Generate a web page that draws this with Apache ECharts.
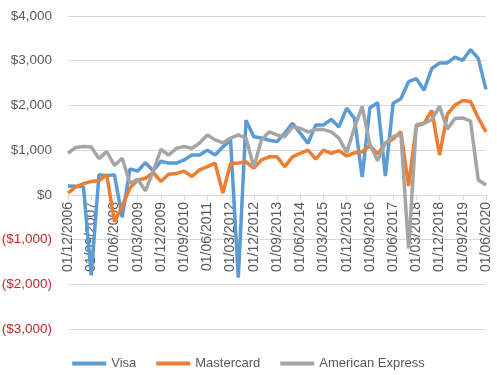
<!DOCTYPE html>
<html>
<head>
<meta charset="utf-8">
<script src="https://cdn.jsdelivr.net/npm/echarts@6/dist/echarts.min.js"></script>
<style>
  html, body { margin: 0; padding: 0; background: #fff; }
  #chart { width: 497px; height: 375px; }
</style>
</head>
<body>
<div id="chart"></div>
<script>
// quarterly, 12/2006 - 06/2020
var quarters = [
  '01/12/2006','01/03/2007','01/06/2007','01/09/2007','01/12/2007','01/03/2008','01/06/2008','01/09/2008',
  '01/12/2008','01/03/2009','01/06/2009','01/09/2009','01/12/2009','01/03/2010','01/06/2010','01/09/2010',
  '01/12/2010','01/03/2011','01/06/2011','01/09/2011','01/12/2011','01/03/2012','01/06/2012','01/09/2012',
  '01/12/2012','01/03/2013','01/06/2013','01/09/2013','01/12/2013','01/03/2014','01/06/2014','01/09/2014',
  '01/12/2014','01/03/2015','01/06/2015','01/09/2015','01/12/2015','01/03/2016','01/06/2016','01/09/2016',
  '01/12/2016','01/03/2017','01/06/2017','01/09/2017','01/12/2017','01/03/2018','01/06/2018','01/09/2018',
  '01/12/2018','01/03/2019','01/06/2019','01/09/2019','01/12/2019','01/03/2020','01/06/2020'
];

var visa = [
  200, 190, 180, -1800, 450, 430, 450, -500,
  580, 530, 720, 540, 750, 710, 710, 780,
  890, 890, 1000, 890, 1070, 1230, -1850, 1670,
  1300, 1270, 1220, 1190, 1380, 1600, 1380, 1150,
  1560, 1560, 1690, 1520, 1940, 1710, 400, 1950,
  2060, 420, 2050, 2150, 2530, 2600, 2340, 2830,
  2950, 2950, 3080, 3010, 3250, 3050, 2360
];

var mastercard = [
  40, 180, 250, 300, 320, 450, -600, -250,
  150, 330, 370, 500, 300, 460, 480, 530,
  410, 560, 630, 710, 40, 700, 710, 740,
  600, 780, 850, 850, 630, 850, 930, 1000,
  800, 1000, 930, 990, 870, 940, 960, 1100,
  920, 1150, 1250, 1410, 200, 1540, 1600, 1890,
  890, 1800, 2010, 2110, 2090, 1720, 1410
];

var amex = [
  930, 1060, 1080, 1070, 810, 970, 660, 820,
  260, 350, 90, 520, 1020, 890, 1040, 1080,
  1040, 1160, 1340, 1230, 1160, 1270, 1340, 1270,
  620, 1230, 1410, 1340, 1300, 1520, 1490, 1410,
  1460, 1460, 1410, 1270, 950, 1500, 1980, 1130,
  760, 1160, 1300, 1360, -1200, 1570, 1600, 1680,
  1980, 1470, 1710, 1720, 1650, 330, 220
];

var seriesNames = ['Visa', 'Mastercard', 'American Express'];
var colors = ['#5b9bd5', '#ed7d31', '#a5a5a5'];

function money(v) {
  var s = '$' + Math.abs(v).toLocaleString('en-US');
  return v < 0 ? '(' + s + ')' : s;
}

var chart = echarts.init(document.getElementById('chart'));

var lineSeries = [visa, mastercard, amex].map(function (d, i) {
  return {
    name: seriesNames[i],
    type: 'line',
    data: d,
    symbol: 'none',
    color: colors[i],
    lineStyle: { width: 3.5, color: colors[i] }
  };
});

// grid is 313px tall, $0 sits 3/7 of it above the bottom
var gridH = 375 - 16 - 46;

var option = {
  animation: false,
  textStyle: { fontFamily: 'Liberation Sans, Arial, sans-serif' },
  grid: { left: 68, right: 11, top: 16, bottom: 46, outerBoundsMode: 'none' },
  legend: {
    data: seriesNames,
    top: 352,
    left: 'center',
    icon: 'rect',
    itemWidth: 34,
    itemHeight: 4,
    itemGap: 20,
    textStyle: { color: '#595959', fontSize: 13 }
  },
  xAxis: {
    type: 'category',
    data: quarters,
    boundaryGap: false,
    position: 'bottom',
    offset: -Math.round(gridH * 3 / 7),
    axisLine: { onZero: false, lineStyle: { color: '#d9d9d9', width: 1 } },
    axisTick: { show: true, interval: 2, length: 5, lineStyle: { color: '#d9d9d9' } },
    axisLabel: { interval: 2, rotate: 90, margin: 7, color: '#595959', fontSize: 14 },
    splitLine: { show: false }
  },
  yAxis: {
    type: 'value',
    min: -3000,
    max: 4000,
    interval: 1000,
    axisLine: { show: false },
    axisTick: { show: false },
    axisLabel: {
      margin: 16,
      fontSize: 13.5,
      formatter: money,
      color: function (v) { return Number(v) < 0 ? '#c0272d' : '#595959'; }
    },
    splitLine: { lineStyle: { color: '#d9d9d9', width: 1 } }
  },
  series: lineSeries
};

chart.setOption(option);
</script>
</body>
</html>
